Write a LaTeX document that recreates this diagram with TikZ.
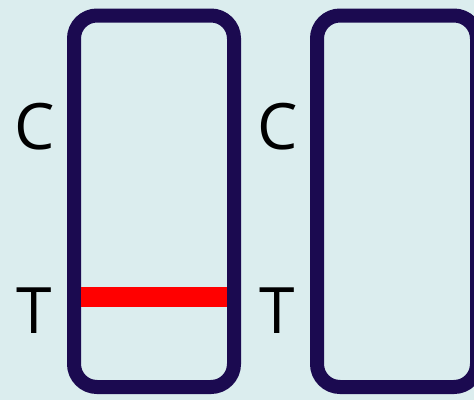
\documentclass[tikz,border=0pt]{standalone}
\usepackage{fontspec}
\setmainfont{Open Sans}
\usetikzlibrary{positioning}
\definecolor{bgcyan}{HTML}{DBEDEE}
\definecolor{stripnavy}{HTML}{1B0A50}

\begin{document}
\begin{tikzpicture}[x=1pt,y=-1pt,
        strip/.style={draw=stripnavy,line width=14pt,rounded corners=23pt,minimum width=160pt,minimum height=371.5pt,inner sep=0pt},
        band/.style={fill=red,inner sep=0pt,minimum width=146pt,minimum height=20pt},
        letter/.style={inner sep=0pt,font=\fontsize{64}{64}\selectfont}]
        \fill[bgcyan] (0,0) rectangle (474,400);
        \useasboundingbox (0,0) rectangle (474,400);
        \clip (0,0) rectangle (474,400);

        \node[strip] (s1) at (154,201.25) {};
        \node[strip] (s2) [right=69pt of s1] {};
        \node[band] (line) at (154,297) {};

        \node[letter] (c1) at (34.5,126.5) {C};
        \node[letter] (t1) at (34,310.5) {T};
        \node[letter] (c2) at (277.5,126.5) {C};
        \node[letter] (t2) at (277.5,310.5) {T};
    \end{tikzpicture}
\end{document}
